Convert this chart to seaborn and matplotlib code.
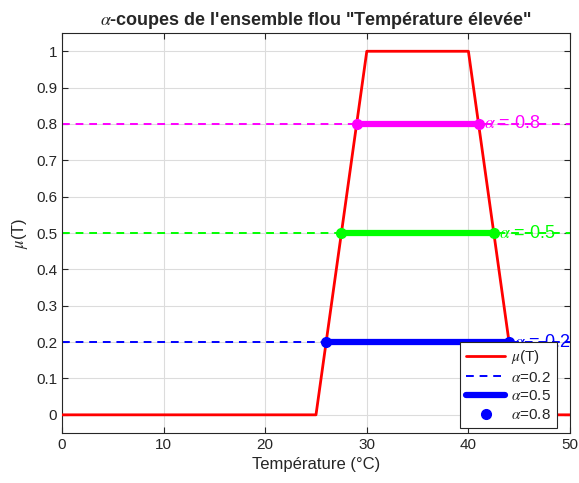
import matplotlib
matplotlib.use("Agg")
import matplotlib.pyplot as plt
import seaborn as sns
import numpy as np
from matplotlib.lines import Line2D

# Data
T_points = [0, 25, 30, 40, 45, 50]
mu_points = [0, 0, 1, 1, 0, 0]
alpha_levels = [0.2, 0.5, 0.8]
left_cuts = [26, 27.5, 29]
right_cuts = [44, 42.5, 41]
level_colors = ["#0000ff", "#00ff00", "#ff00ff"]
x_ticks = [0, 10, 20, 30, 40, 50]
y_ticks = [0, 0.1, 0.2, 0.3, 0.4, 0.5, 0.6, 0.7, 0.8, 0.9, 1.0]
y_tick_labels = ["0", "0.1", "0.2", "0.3", "0.4", "0.5", "0.6", "0.7", "0.8", "0.9", "1"]
legend_labels = [r"$\mu$(T)", r"$\alpha$=0.2", r"$\alpha$=0.5", r"$\alpha$=0.8"]

sns.set_style("whitegrid")
plt.rcParams["font.family"] = ["Liberation Sans", "DejaVu Sans"]
plt.rcParams["mathtext.fontset"] = "stix"

fig = plt.figure(figsize=(5.79, 4.83), dpi=100)
ax = fig.add_axes([0.107, 0.1035, 0.8775, 0.828])

sns.lineplot(x=T_points, y=mu_points, color="red", linewidth=2, ax=ax, zorder=3)

for a, l, r, c in zip(alpha_levels, left_cuts, right_cuts, level_colors):
    ax.axhline(a, color=c, linestyle=(0, (4, 3)), linewidth=1.4, zorder=2)
    sns.lineplot(x=[l, r], y=[a, a], color=c, linewidth=4.5, ax=ax, zorder=4)
    ax.plot([l, r], [a, a], "o", color=c, markersize=7, zorder=5)
    ax.text(r + 0.5, a, r"$\alpha$ = %.1f" % a, color=c, fontsize=13,
            va="center", ha="left", zorder=6)

ax.set_xlim(0, 50)
ax.set_ylim(-0.05, 1.05)
ax.set_xticks(x_ticks)
ax.set_yticks(y_ticks)
ax.set_yticklabels(y_tick_labels)
ax.tick_params(axis="both", direction="in", length=4, width=0.8, colors="#262626",
               labelsize=11, top=True, right=True, bottom=True, left=True)
ax.grid(True, color="#dcdcdc", linewidth=0.8)
for s in ax.spines.values():
    s.set_visible(True)
    s.set_color("#262626")
    s.set_linewidth(0.8)

ax.set_xlabel("Température (°C)", fontsize=12, color="#262626")
ax.set_ylabel(r"$\mu$(T)", fontsize=12, color="#262626")
ax.set_title("$\\alpha$-coupes de l'ensemble flou \"Température élevée\"",
             fontsize=13, fontweight="bold", pad=6)

handles = [
    Line2D([], [], color="red", linewidth=2),
    Line2D([], [], color="blue", linestyle=(0, (4, 3)), linewidth=1.4),
    Line2D([], [], color="blue", linewidth=4.5),
    Line2D([], [], color="blue", marker="o", linestyle="none", markersize=7),
]
leg = ax.legend(handles, legend_labels, loc="lower right",
                bbox_to_anchor=(0.974, 0.0125), borderaxespad=0, fontsize=11,
                frameon=True, fancybox=False, framealpha=1, edgecolor="#262626",
                borderpad=0.4, labelspacing=0.3, handlelength=2.5, handletextpad=0.4)
leg.get_frame().set_linewidth(0.8)
leg.set_zorder(10)

fig.savefig("out.png", dpi=100)
